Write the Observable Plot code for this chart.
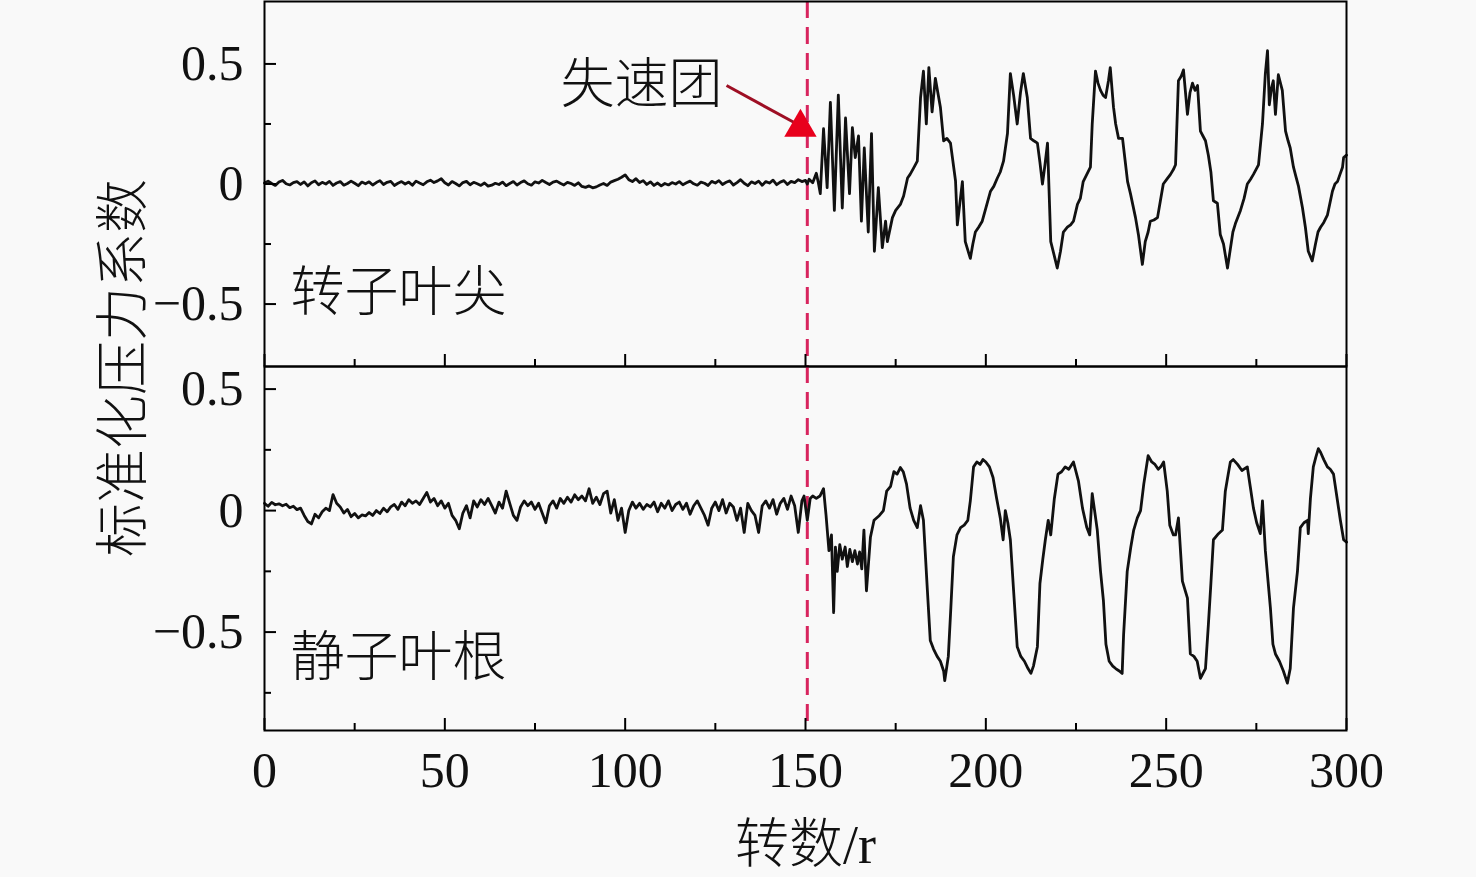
<!DOCTYPE html>
<html>
<head>
<meta charset="utf-8">
<script src="https://cdn.jsdelivr.net/npm/d3@7"></script>
<script src="https://cdn.jsdelivr.net/npm/@observablehq/plot@0.6"></script>
<style>
  html, body { margin: 0; padding: 0; background: #f9f9f9; }
  #wrap { position: relative; width: 1476px; height: 877px; overflow: hidden; }
  #topPanel { position: absolute; left: 0; top: 0; }
  #botPanel { position: absolute; left: 0; top: 366px; }
  #ytitle {
    position: absolute; left: 118px; top: 368px;
    transform: translate(-50%, -50%) rotate(-90deg);
    font-family: "Liberation Serif", "Noto Sans CJK SC", serif;
    font-size: 54px; font-weight: 300; color: #111; white-space: nowrap;
  }
</style>
</head>
<body>
<div id="wrap">
  <div id="topPanel"></div>
  <div id="botPanel"></div>
  <div id="ytitle">标准化压力系数</div>
</div>
<script>
// ---------------- data ----------------
const xMajor = [0, 50, 100, 150, 200, 250, 300];
const xMinor = [25, 75, 125, 175, 225, 275];
const yMajor = [-0.5, 0, 0.5];
const tipMinor = [-0.25, 0.25];
const rootMinor = [-0.75, -0.25, 0.25];
const stallTurn = [150.5];
const panelLabels = ["转子叶尖", "静子叶根"];
const xTitle = "转数/r";
const stallLabel = "失速团";
// annotation anchor positions (turns, coefficient) in the rotor-tip panel
const stallTextPos = [127, 0.41];
const stallArrow = [[128.1, 0.41, 147.0, 0.255]];
const stallHead = [[148.6, 0.236]];

// rotor tip, turns 0..148 (one value per turn)
const tipQuiet = [
  0.004, 0.012, 0.002, -0.006, 0.008, 0.015, 0.001, -0.004, 0.006, 0.010,
  -0.002, 0.009, -0.008, 0.005, 0.013, -0.003, 0.007, 0.000, 0.011, -0.006,
  0.004, 0.010, -0.005, 0.002, 0.012, 0.003, -0.007, 0.008, 0.001, 0.009,
  -0.004, 0.006, 0.014, -0.002, 0.007, 0.011, -0.006, 0.003, 0.010, 0.000,
  0.008, -0.005, 0.012, 0.004, -0.003, 0.009, 0.016, 0.006, 0.013, 0.022,
  0.005, -0.004, 0.010, 0.002, -0.008, 0.006, 0.011, -0.003, 0.007, 0.001,
  -0.006, 0.004, -0.009, -0.005, 0.003, -0.002, 0.008, -0.007, 0.002, 0.010,
  -0.004, 0.006, 0.013, 0.001, -0.005, 0.009, 0.004, 0.015, 0.006, -0.002,
  0.008, 0.012, 0.003, -0.004, 0.007, 0.002, -0.006, 0.005, -0.010, -0.014,
  -0.008, -0.016, -0.012, -0.004, 0.002, -0.006, 0.008, 0.014, 0.020, 0.028,
  0.038, 0.018, 0.010, 0.022, 0.006, 0.014, -0.002, 0.009, -0.006, 0.004,
  -0.008, 0.002, -0.004, 0.006, 0.000, 0.010, -0.003, 0.005, 0.012, 0.001,
  -0.005, 0.008, 0.003, -0.006, 0.011, 0.004, 0.014, -0.002, 0.007, 0.013,
  -0.004, 0.006, 0.018, 0.003, -0.007, 0.009, 0.002, 0.012, -0.005, 0.010,
  0.004, 0.016, -0.003, 0.008, 0.014, -0.002, 0.011, 0.006, 0.018
];
// rotor tip after stall inception: [turn, value]
const tipActive = [
  [149,0.01],[150,0.015],[150.5,0.0],[151,0.02],[152,0.005],[153,0.045],[153.5,0.01],[154.1,-0.04],
  [155,0.23],[156,-0.015],[156.9,0.34],[158,-0.11],[159.1,0.37],[160.2,-0.1],[161.1,0.275],
  [162.2,-0.04],[163,0.235],[163.8,0.11],[164.7,0.2],[165.5,-0.155],[166.3,0.15],[167.4,-0.2],
  [168.3,0.21],[169.1,-0.28],[170.2,-0.015],[171.3,-0.265],[172.2,-0.155],[172.7,-0.24],
  [174.1,-0.14],[175,-0.11],[176.3,-0.085],[177.2,-0.05],[178.3,0.025],[179,0.04],[180,0.067],
  [181,0.095],[181.9,0.36],[182.7,0.47],[183.5,0.25],[184.2,0.485],[185.1,0.30],[186,0.44],
  [187.4,0.32],[188.3,0.18],[189.2,0.19],[190.2,0.17],[191.6,0.0125],[192.1,-0.17],[193.5,0.01],
  [194.3,-0.24],[195.7,-0.31],[196.4,-0.25],[197.1,-0.2],[198,-0.18],[199,-0.155],[200,-0.1],
  [201.3,-0.03],[202.2,-0.01],[203.2,0.025],[204,0.05],[204.9,0.095],[206,0.21],[206.8,0.46],
  [207.7,0.37],[208.7,0.25],[209.6,0.38],[210.4,0.46],[211.5,0.36],[212.4,0.19],[213.3,0.18],
  [214.3,0.17],[215,0.09],[215.7,0.0],[216.4,0.08],[217.1,0.17],[218,-0.24],[219,-0.3],
  [219.8,-0.35],[220.7,-0.28],[221.5,-0.2],[222.6,-0.18],[223.5,-0.17],[224.3,-0.155],
  [225.4,-0.085],[226.2,-0.06],[227,0.01],[228,0.04],[229,0.07],[229.5,0.25],[230.4,0.47],
  [231.1,0.42],[231.8,0.39],[232.5,0.37],[233.2,0.36],[234,0.43],[234.5,0.485],[235.4,0.32],
  [236,0.25],[236.8,0.19],[237.9,0.19],[238.6,0.1],[239.3,0.01],[240.1,-0.04],[240.8,-0.09],
  [241.5,-0.14],[242.3,-0.21],[243.4,-0.335],[244.2,-0.24],[245,-0.2],[245.6,-0.155],
  [246.6,-0.15],[247.6,-0.14],[248.4,-0.07],[249.2,0.0],[250.2,0.02],[251.2,0.04],[252,0.06],
  [252.6,0.08],[253.4,0.43],[254.2,0.45],[254.8,0.475],[255.9,0.29],[256.6,0.38],[257.3,0.42],
  [258,0.39],[258.7,0.41],[259.5,0.22],[260.2,0.2],[260.9,0.18],[261.7,0.12],[262.4,0.05],
  [263.1,-0.07],[264.2,-0.08],[265,-0.21],[265.9,-0.25],[267,-0.35],[267.8,-0.27],[268.5,-0.2],
  [269.2,-0.165],[270.6,-0.11],[271.6,-0.06],[272.5,0.0],[273.4,0.02],[274.2,0.04],[275.6,0.08],
  [276.7,0.25],[277.5,0.46],[278.1,0.555],[278.6,0.33],[279.2,0.40],[279.7,0.43],[280.3,0.29],
  [281.1,0.455],[282.2,0.39],[283.1,0.22],[283.8,0.18],[284.4,0.15],[285.3,0.07],[286,0.03],
  [286.7,-0.01],[287.8,-0.1],[288.6,-0.18],[289.4,-0.28],[290.5,-0.32],[291.4,-0.25],
  [292.1,-0.2],[292.8,-0.18],[293.7,-0.16],[294.7,-0.13],[295.4,-0.08],[296.1,-0.03],
  [296.8,0.0],[297.5,0.01],[298.2,0.04],[298.9,0.07],[299.2,0.11],[300,0.12]
];

// stator root, turns 0..148 (one value per turn)
const rootQuiet = [
  0.030, 0.018, 0.034, 0.024, 0.028, 0.020, 0.026, 0.012, 0.018, 0.004,
  0.010, -0.020, -0.045, -0.055, -0.015, -0.030, -0.005, 0.010, 0.000, 0.066,
  0.030, 0.015, -0.010, 0.005, -0.025, -0.012, -0.030, -0.018, -0.022, -0.008,
  -0.020, 0.000, -0.012, 0.010, -0.005, 0.015, 0.025, 0.005, 0.035, 0.020,
  0.045, 0.030, 0.040, 0.025, 0.050, 0.075, 0.035, 0.050, 0.020, 0.040,
  0.010, 0.030, -0.020, -0.040, -0.075, -0.010, 0.020, -0.030, 0.040, 0.015,
  0.045, 0.025, 0.050, 0.020, -0.010, 0.035, 0.010, 0.080, 0.030, -0.020,
  -0.040, 0.015, 0.040, 0.020, 0.035, 0.005, 0.030, -0.010, -0.050, 0.020,
  0.040, 0.010, 0.050, 0.030, 0.055, 0.035, 0.065, 0.045, 0.060, 0.040,
  0.090, 0.030, 0.055, 0.025, 0.070, 0.080, -0.010, 0.045, -0.040, 0.010,
  -0.090, 0.000, 0.035, 0.010, 0.030, 0.005, 0.025, 0.015, 0.035, -0.005,
  0.030, 0.010, 0.040, 0.000, 0.025, 0.035, 0.005, 0.030, -0.015, 0.020,
  0.040, 0.010, -0.020, -0.060, 0.010, 0.035, 0.000, 0.045, -0.010, 0.030,
  0.015, -0.040, 0.010, -0.090, 0.030, 0.000, -0.020, -0.090, 0.020, 0.040,
  0.010, 0.045, -0.015, 0.030, 0.050, 0.005, 0.060, 0.020, -0.090
];
// stator root after stall inception: [turn, value]
const rootActive = [
  [149,0.04],[149.6,0.06],[150.5,-0.04],[151.3,0.05],[152,0.06],[153,0.05],[154,0.06],[155,0.09],
  [155.7,-0.02],[156.5,-0.165],[157.2,-0.1],[157.8,-0.42],[158.3,-0.15],[158.8,-0.25],[159.5,-0.14],
  [160.2,-0.2],[161,-0.15],[161.6,-0.23],[162.3,-0.16],[163,-0.21],[163.7,-0.165],[164.4,-0.22],
  [165,-0.17],[165.6,-0.24],[166.2,-0.08],[166.9,-0.33],[168,-0.11],[169,-0.04],[170.5,-0.02],
  [171.6,0.0],[172.5,0.08],[173.6,0.1],[174.5,0.16],[175.4,0.15],[176.3,0.177],[177.1,0.16],
  [178,0.11],[179,0.01],[180,-0.04],[181,-0.07],[181.9,0.02],[182.7,-0.04],[183.8,-0.33],
  [184.6,-0.535],[185.5,-0.57],[186.5,-0.6],[187.4,-0.62],[188.3,-0.66],[188.6,-0.70],[189.6,-0.6],
  [190.3,-0.4],[191,-0.19],[192,-0.1],[193,-0.07],[194,-0.06],[195,-0.04],[195.7,0.04],[196.6,0.18],
  [197.5,0.2],[198.4,0.19],[199.2,0.21],[200,0.2],[201,0.18],[202,0.136],[203,0.05],[204,-0.03],
  [204.8,-0.12],[205.4,0.0],[206.1,-0.05],[206.8,-0.12],[207.7,-0.33],[208.7,-0.56],[209.7,-0.6],
  [210.7,-0.62],[211.7,-0.65],[212.5,-0.67],[213.2,-0.64],[214.3,-0.56],[215,-0.30],[215.8,-0.2],
  [216.5,-0.12],[217.3,-0.04],[218,-0.1],[219,0.05],[220,0.15],[221,0.16],[222,0.18],[223,0.17],
  [224.3,0.2],[225.7,0.12],[226.8,0.01],[228,-0.07],[228.8,-0.1],[229.5,0.07],[230.9,-0.08],
  [231.8,-0.25],[232.6,-0.37],[233.3,-0.55],[234.2,-0.62],[235.2,-0.64],[236,-0.65],[237,-0.66],
  [237.8,-0.67],[238.2,-0.51],[239.2,-0.25],[240.2,-0.15],[241,-0.08],[242,-0.03],[242.9,0.0],
  [243.8,0.11],[245,0.226],[246,0.2],[246.9,0.19],[247.8,0.17],[248.5,0.18],[249.3,0.2],[250.3,0.08],
  [251,-0.06],[252,-0.1],[252.6,-0.1],[253.4,-0.03],[254.5,-0.29],[255.9,-0.36],[256.7,-0.59],
  [257.7,-0.6],[258.6,-0.62],[259.5,-0.69],[260.9,-0.65],[261.7,-0.47],[262.4,-0.3],[263.1,-0.12],
  [264.5,-0.095],[265.6,-0.08],[266.4,0.08],[267.2,0.15],[267.8,0.2],[268.6,0.21],[269.8,0.19],
  [271,0.165],[272.5,0.18],[273.3,0.1],[274.2,0.01],[275.1,-0.05],[276.1,-0.095],[276.7,0.04],
  [277.5,-0.165],[278.9,-0.4],[279.6,-0.55],[280.3,-0.59],[281.4,-0.62],[282.5,-0.66],[283.6,-0.71],
  [284.4,-0.65],[285.3,-0.4],[286.4,-0.25],[287.2,-0.07],[288.2,-0.05],[289.2,-0.04],[289.4,-0.095],
  [290,0.05],[290.8,0.18],[291.5,0.22],[292.2,0.255],[292.8,0.24],[293.7,0.21],[294.7,0.18],
  [295.5,0.17],[296.4,0.15],[297.4,0.05],[298.3,-0.04],[299.2,-0.12],[300,-0.13]
];

// ---------------- build ----------------
const FONT = '"Liberation Serif", "Noto Sans CJK SC", serif';
const CJK = '"Noto Sans CJK SC", "Liberation Serif", sans-serif';
const W = 1476, ML = 264, MR = 130;
const plotW = W - ML - MR;
const xDomain = [0, 300];
const tipDomain = [-0.76, 0.76];
const rootDomain = [-0.905, 0.593];
const MAJOR = 12, MINOR = 7;
const stallColor = "#d8245e";

const toRows = (quiet, active) => [
  ...quiet.map((v, i) => ({t: i, v})),
  ...active.map(([t, v]) => ({t, v}))
];
const tipRows = toRows(tipQuiet, tipActive);
const rootRows = toRows(rootQuiet, rootActive);

const fmt = d => d === 0 ? "0" : d3.format(".1f")(d);

function panel({rows, yDomain, height, mt, mb, minorY, label, labelDy, extra = [], bottomAxis = false}) {
  const innerH = height - mt - mb;
  const xu = px => px * (xDomain[1] - xDomain[0]) / plotW;
  const yu = px => px * (yDomain[1] - yDomain[0]) / innerH;
  const y0 = yDomain[0];
  const marks = [
    Plot.ruleX(stallTurn, {stroke: stallColor, strokeWidth: 3, strokeDasharray: "17,9"}),
    Plot.line(rows, {x: "t", y: "v", stroke: "#111", strokeWidth: 2.8, strokeLinejoin: "round"}),
    // inward y ticks
    Plot.ruleY(yMajor, {x1: xDomain[0], x2: xDomain[0] + xu(MAJOR), stroke: "#000", strokeWidth: 2}),
    Plot.ruleY(minorY, {x1: xDomain[0], x2: xDomain[0] + xu(MINOR), stroke: "#000", strokeWidth: 2}),
    // inward x ticks on bottom edge
    Plot.ruleX(xMajor, {y1: y0, y2: y0 + yu(MAJOR), stroke: "#000", strokeWidth: 2}),
    Plot.ruleX(xMinor, {y1: y0, y2: y0 + yu(MINOR), stroke: "#000", strokeWidth: 2}),
    Plot.axisY({ticks: yMajor, tickSize: 0, tickPadding: 21, tickFormat: fmt, fontSize: 50, label: null}),
    Plot.frame({stroke: "#000", strokeWidth: 2}),
    Plot.text([label], {frameAnchor: "bottom-left", dx: 26, dy: labelDy, textAnchor: "start",
      fontSize: 54, fontFamily: CJK, fontWeight: 300, fill: "#111"}),
    ...extra
  ];
  if (bottomAxis) {
    marks.push(Plot.axisX({ticks: xMajor, tickSize: 0, tickPadding: 21, tickFormat: d => String(d), fontSize: 50, label: null}));
    marks.push(Plot.text([xTitle], {frameAnchor: "bottom", dy: 132, fontSize: 54, fontFamily: FONT, fontWeight: 300, fill: "#111"}));
  }
  return Plot.plot({
    width: W, height, marginLeft: ML, marginRight: MR, marginTop: mt, marginBottom: mb,
    x: {domain: xDomain, axis: null},
    y: {domain: yDomain, axis: null},
    style: {background: "transparent", fontFamily: FONT, fontSize: "50px", color: "#111", overflow: "visible"},
    marks
  });
}

const annotation = [
  Plot.link(stallArrow, {x1: d => d[0], y1: d => d[1], x2: d => d[2], y2: d => d[3],
    stroke: "#9e0f24", strokeWidth: 3}),
  Plot.dot(stallHead, {x: d => d[0], y: d => d[1], symbol: "triangle", r: 12, fill: "#e8001c", stroke: "none"}),
  Plot.text([stallLabel], {x: () => stallTextPos[0], y: () => stallTextPos[1], textAnchor: "end",
    fontSize: 54, fontFamily: CJK, fontWeight: 300, fill: "#111"})
];

const topChart = panel({rows: tipRows, yDomain: tipDomain, height: 367, mt: 1, mb: 1,
  minorY: tipMinor, label: panelLabels[0], labelDy: -56, extra: annotation});
const botChart = panel({rows: rootRows, yDomain: rootDomain, height: 511, mt: 0, mb: 147,
  minorY: rootMinor, label: panelLabels[1], labelDy: -55, bottomAxis: true});

document.getElementById("topPanel").appendChild(topChart);
document.getElementById("botPanel").appendChild(botChart);
</script>
</body>
</html>
